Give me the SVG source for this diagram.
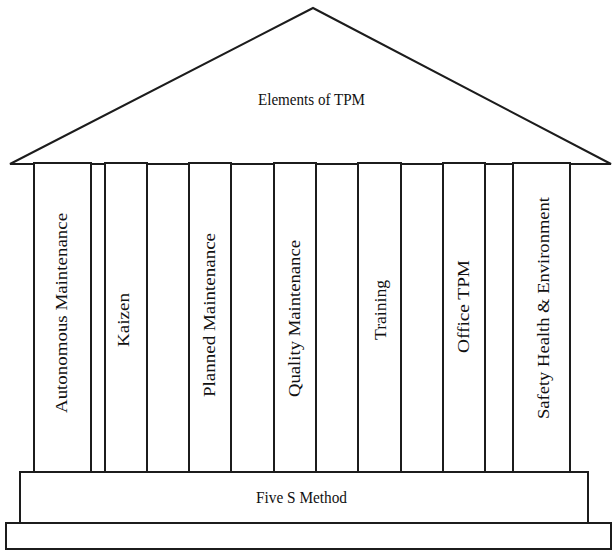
<svg xmlns="http://www.w3.org/2000/svg" width="612" height="551" viewBox="0 0 612 551">
<style>
.ln{fill:#fff;stroke:#1c1c1c;stroke-width:2}
.t{font-family:"Liberation Serif","Times New Roman",serif;font-size:16px;fill:#111}
</style>
<rect width="612" height="551" fill="#fff"/>
<g id="roof">
<polygon class="ln" points="10,164 313,8 611,164"/>
<text class="t" x="311.5" y="105" text-anchor="middle" textLength="107" lengthAdjust="spacingAndGlyphs">Elements of TPM</text>
</g>
<g id="pillar-autonomous">
<rect class="ln" x="34" y="163" width="57" height="309"/>
<text class="t" transform="translate(67,313) rotate(-90)" text-anchor="middle" textLength="200" lengthAdjust="spacingAndGlyphs">Autonomous Maintenance</text>
</g>
<g id="pillar-kaizen">
<rect class="ln" x="105" y="163" width="42" height="309"/>
<text class="t" transform="translate(129,320) rotate(-90)" text-anchor="middle" textLength="54" lengthAdjust="spacingAndGlyphs">Kaizen</text>
</g>
<g id="pillar-planned">
<rect class="ln" x="189" y="163" width="42" height="309"/>
<text class="t" transform="translate(215,315) rotate(-90)" text-anchor="middle" textLength="164" lengthAdjust="spacingAndGlyphs">Planned Maintenance</text>
</g>
<g id="pillar-quality">
<rect class="ln" x="274" y="163" width="42" height="309"/>
<text class="t" transform="translate(299.5,318.5) rotate(-90)" text-anchor="middle" textLength="157" lengthAdjust="spacingAndGlyphs">Quality Maintenance</text>
</g>
<g id="pillar-training">
<rect class="ln" x="358" y="163" width="43" height="309"/>
<text class="t" transform="translate(386,310) rotate(-90)" text-anchor="middle" textLength="60" lengthAdjust="spacingAndGlyphs">Training</text>
</g>
<g id="pillar-office">
<rect class="ln" x="443" y="163" width="42" height="309"/>
<text class="t" transform="translate(469,306.5) rotate(-90)" text-anchor="middle" textLength="93" lengthAdjust="spacingAndGlyphs">Office TPM</text>
</g>
<g id="pillar-safety">
<rect class="ln" x="513" y="163" width="57" height="309"/>
<text class="t" transform="translate(549,308) rotate(-90)" text-anchor="middle" textLength="222" lengthAdjust="spacingAndGlyphs">Safety Health &amp; Environment</text>
</g>
<g id="base">
<rect class="ln" x="20" y="472" width="568" height="51"/>
<text class="t" x="301.5" y="503" text-anchor="middle" textLength="91" lengthAdjust="spacingAndGlyphs">Five S Method</text>
</g>
<g id="foundation">
<rect class="ln" x="6" y="523" width="605" height="26"/>
</g>
<g id="connectors"></g>
</svg>
